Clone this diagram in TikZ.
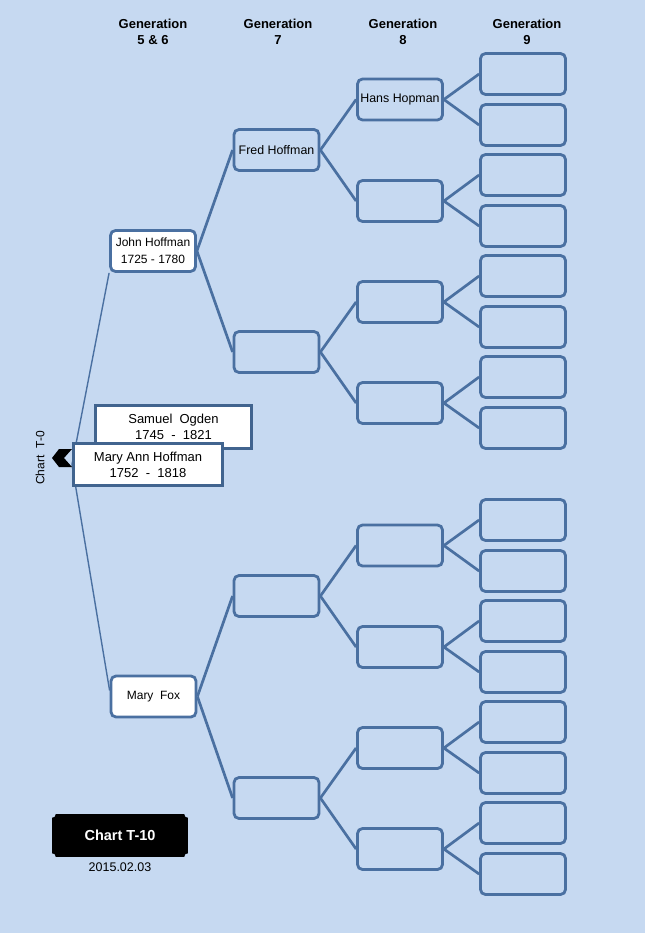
\documentclass[tikz,border=0pt]{standalone}
\usepackage{fontspec}
\setmainfont{Liberation Sans}
\usetikzlibrary{backgrounds}
\definecolor{bgc}{HTML}{C6D9F1}
\definecolor{bd}{HTML}{4A70A1}
\definecolor{bdd}{HTML}{41648F}
\begin{document}
\begin{tikzpicture}[x=1pt,y=-1pt,
  box/.style={draw=bd, line width=2.8pt, rounded corners=5pt, minimum width=85pt, minimum height=41pt, fill=bgc, inner sep=0pt, align=center, font=\fontsize{12.4}{17}\selectfont},
  wbox/.style={box, fill=white},
  sqbox/.style={draw=bdd, line width=3pt, fill=white, inner sep=0pt, align=center, font=\fontsize{13}{16}\selectfont},
  link/.style={draw=bd, line width=2.7pt},
  thin/.style={draw=bd, line width=1.4pt},
  hdr/.style={align=center, font=\bfseries\fontsize{13}{16}\selectfont, inner sep=0pt},
  lbl/.style={inner sep=0pt, font=\fontsize{12}{14}\selectfont}]
\useasboundingbox (0,0) rectangle (645,933);
% headers
\node[hdr] (h1) at (153,32) {Generation\\5 \& 6};
\node[hdr] (h2) at (278,32) {Generation\\7};
\node[hdr] (h3) at (403,32) {Generation\\8};
\node[hdr] (h4) at (527,32) {Generation\\9};
% generation 9
\foreach \y [count=\i] in {74,125,175,226,276,327,377,428,520,571,621,672,722,773,823,874}
  \node[box] (g9-\i) at (523,\y) {};
% generation 8
\foreach \y/\t [count=\i] in {99.5/Hans Hopman,201/,302/,403/,545.5/,647/,748/,849/}
  \node[box] (g8-\i) at (400,\y) {\t};
% generation 7
\foreach \y/\t [count=\i] in {150/Fred Hoffman,352/,596/,798/}
  \node[box] (g7-\i) at (276.5,\y) {\t};
% generation 5 & 6
\node[wbox, font=\fontsize{12}{17}\selectfont] (john) at (153,251) {John Hoffman\\1725 - 1780};
\node[wbox, font=\fontsize{12}{17}\selectfont] (fox) at (153.5,696.5) {Mary\ \ Fox};
% chevron and couple boxes
\fill[black] (52,458) -- (59,449) -- (72,449) -- (64,458) -- (72,467) -- (59,467) -- cycle;
\node[sqbox, minimum width=156pt, minimum height=43pt] (ogden) at (173.5,427) {Samuel\ \ Ogden\\1745\ \ -\ \ 1821};
\node[sqbox, minimum width=149pt, minimum height=42pt] (maryann) at (148,464.5) {Mary Ann Hoffman\\1752\ \ -\ \ 1818};
\node[lbl, rotate=90] (ct0) at (40,458) {Chart\ \ T-0};
% connectors
\begin{scope}[on background layer]
\fill[bgc] (0,0) rectangle (645,933);
\draw[thin] (john.south west) -- (maryann.west) -- ([yshift=6pt]fox.west);
\foreach \i [evaluate=\i as \a using int(2*\i-1), evaluate=\i as \b using int(2*\i)] in {1,...,8} {
  \draw[link] (g8-\i.east) -- (g9-\a.west);
  \draw[link] (g8-\i.east) -- (g9-\b.west);
}
\foreach \i [evaluate=\i as \a using int(2*\i-1), evaluate=\i as \b using int(2*\i)] in {1,...,4} {
  \draw[link] (g7-\i.east) -- (g8-\a.west);
  \draw[link] (g7-\i.east) -- (g8-\b.west);
}
\draw[link] (john.east) -- (g7-1.west);
\draw[link] (john.east) -- (g7-2.west);
\draw[link] (fox.east) -- (g7-3.west);
\draw[link] (fox.east) -- (g7-4.west);
\end{scope}
% chart label
\node[fill=black, text=white, minimum width=136pt, minimum height=43pt, inner sep=0pt, font=\bfseries\fontsize{14.5}{16}\selectfont] (chart) at (120,835.5) {Chart T-10};
\foreach \c in {north west,north east,south west,south east}
  \fill[bgc] (chart.\c) circle (4pt);
\node[lbl, font=\fontsize{12.5}{14}\selectfont] (date) at (120,867) {2015.02.03};
\end{tikzpicture}
\end{document}
